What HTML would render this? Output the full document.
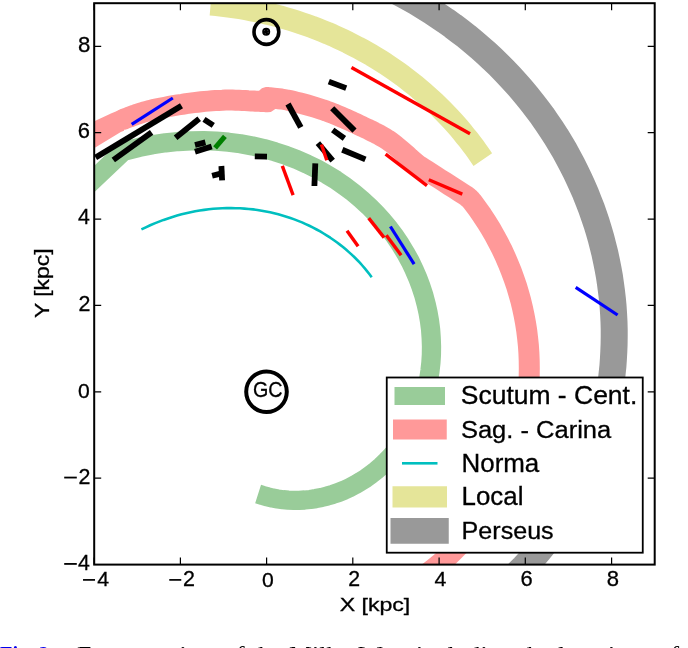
<!DOCTYPE html>
<html><head><meta charset="utf-8"><style>
html,body{margin:0;padding:0;background:#fff;width:688px;height:648px;overflow:hidden;}
svg{display:block;will-change:transform;}
</style></head><body>
<svg width="688" height="648" viewBox="0 0 688 648"><defs><clipPath id="ax"><rect x="94.2" y="3.2" width="560.5" height="561.4"/></clipPath></defs>
<g clip-path="url(#ax)">
<path d="M376.4 -18.6 L384.6 -14.8 L392.6 -10.9 L400.6 -6.8 L408.4 -2.5 L416.1 1.8 L423.7 6.4 L431.1 11.0 L438.5 15.9 L445.7 20.8 L452.8 25.9 L459.7 31.1 L466.6 36.4 L473.2 41.9 L479.8 47.5 L486.2 53.2 L492.5 59.0 L498.6 64.9 L504.6 71.0 L510.4 77.1 L516.1 83.3 L521.6 89.6 L527.0 96.1 L532.2 102.6 L537.3 109.2 L542.2 115.8 L546.9 122.6 L551.5 129.4 L556.0 136.3 L560.2 143.3 L564.4 150.3 L568.3 157.4 L572.1 164.6 L575.7 171.8 L579.2 179.1 L582.5 186.4 L585.7 193.7 L588.6 201.1 L591.5 208.5 L594.1 216.0 L596.6 223.4 L598.9 230.9 L601.1 238.5 L603.0 246.0 L604.9 253.6 L606.5 261.1 L608.0 268.7 L609.4 276.3 L610.5 283.9 L611.5 291.4 L612.4 299.0 L613.1 306.6 L613.6 314.1 L614.0 321.7 L614.2 329.2 L614.2 336.7 L614.1 344.1 L613.8 351.6 L613.4 359.0 L612.9 366.3 L612.1 373.7 L611.3 381.0 L610.3 388.2 L609.1 395.4 L607.8 402.5 L606.3 409.6 L604.7 416.7 L603.0 423.6 L601.1 430.6 L599.1 437.4 L596.9 444.2 L594.7 450.9 L592.2 457.6 L589.7 464.1 L587.0 470.6 L584.2 477.0 L581.3 483.4 L578.2 489.6 L575.1 495.8 L571.8 501.8 L568.4 507.8 L564.9 513.7 L561.3 519.5 L557.6 525.2 L553.7 530.8 L549.8 536.3 L545.8 541.7 L541.6 547.0 L537.4 552.2 L533.1 557.3 L528.7 562.2 L524.2 567.1 L519.6 571.8 L514.9 576.5 L510.2 581.0 L505.4 585.4 L500.5 589.7 L495.5 593.9 L490.4 597.9 L485.3 601.9 L480.2 605.7" fill="none" stroke="#999999" stroke-width="27" stroke-linejoin="round" stroke-linecap="butt"/>
<path d="M210.6 4.4 L216.6 4.9 L222.5 5.6 L228.4 6.3 L234.2 7.1 L240.0 8.0 L245.8 9.0 L251.6 10.1 L257.3 11.2 L263.0 12.5 L268.6 13.8 L274.2 15.2 L279.8 16.6 L285.3 18.2 L290.7 19.8 L296.2 21.5 L301.6 23.3 L306.9 25.1 L312.2 27.0 L317.4 29.0 L322.6 31.1 L327.8 33.2 L332.9 35.4 L337.9 37.7 L342.9 40.0 L347.9 42.4 L352.7 44.9 L357.6 47.4 L362.4 50.0 L367.1 52.6 L371.8 55.3 L376.4 58.1 L380.9 60.9 L385.4 63.8 L389.8 66.8 L394.2 69.8 L398.5 72.8 L402.8 75.9 L407.0 79.1 L411.1 82.3 L415.2 85.6 L419.2 88.9 L423.1 92.3 L427.0 95.7 L430.8 99.1 L434.6 102.6 L438.3 106.1 L441.9 109.7 L445.4 113.3 L448.9 117.0 L452.3 120.7 L455.7 124.4 L459.0 128.2 L462.2 132.0 L465.3 135.9 L468.4 139.7 L471.4 143.6 L474.4 147.6 L477.2 151.5 L480.0 155.5 L482.8 159.6" fill="none" stroke="#e5e599" stroke-width="22.5" stroke-linejoin="round" stroke-linecap="butt"/>
<path d="M123.5 119.2 L125.0 118.7 L126.9 118.0 L129.1 117.2 L131.5 116.2 L134.2 115.3 L137.2 114.2 L140.2 113.2 L143.4 112.2 L146.7 111.3 L150.0 110.4 L153.5 109.6 L157.2 108.8 L161.1 108.0 L165.2 107.2 L169.4 106.4 L173.7 105.6 L177.9 104.9 L182.1 104.3 L186.1 103.6 L190.0 103.1 L193.8 102.6 L197.5 102.2 L201.2 101.8 L204.8 101.4 L208.4 101.1 L212.0 100.8 L215.5 100.6 L218.9 100.4 L222.3 100.3 L225.6 100.1 L228.9 100.1 L232.3 100.1 L235.6 100.2 L239.0 100.3 L242.2 100.4 L245.3 100.6 L248.3 100.8 L251.0 100.9 L253.6 101.0 L255.8 101.2 L257.8 101.2 L259.5 101.3 L261.0 101.4 L262.4 101.5 L263.5 101.5 L264.6 101.6 L265.4 101.7 L266.2 101.7 L266.9 101.8 L267.5 101.8 L267.0 97.5 L268.3 97.7 L269.9 97.8 L271.8 98.0 L273.9 98.2 L276.2 98.4 L278.7 98.7 L281.4 99.0 L284.2 99.5 L287.1 100.0 L290.0 100.6 L293.1 101.3 L296.4 102.1 L299.9 103.0 L303.6 104.0 L307.3 105.0 L311.1 106.1 L315.0 107.3 L318.8 108.5 L322.6 109.7 L326.3 111.0 L330.0 112.4 L333.7 113.8 L337.5 115.4 L341.3 117.0 L345.1 118.6 L348.8 120.3 L352.4 121.9 L356.0 123.6 L359.4 125.2 L362.7 126.8 L365.8 128.2 L368.8 129.6 L371.6 131.0 L374.3 132.4 L377.0 133.7 L379.6 135.1 L382.2 136.6 L384.7 138.1 L387.4 139.7 L390.0 141.5 L392.8 143.5 L395.6 145.7 L398.6 148.2 L401.5 150.7 L404.4 153.2 L407.2 155.7 L409.8 158.1 L412.3 160.2 L414.4 162.1 L416.3 163.7 L417.7 164.8 L418.5 165.5 L418.9 165.8 L419.0 165.9 L419.1 166.0 L419.3 166.0 L419.7 166.2 L420.5 166.6 L421.8 167.5 L423.8 168.7 L426.7 170.6 L430.5 173.1 L434.9 175.9 L439.8 179.0 L444.8 182.2 L449.7 185.4 L454.5 188.4 L458.7 191.1 L462.2 193.3 L464.8 195.0 L466.0 195.8 L467.1 196.6 L468.2 197.5 L469.2 198.4 L470.2 199.3 L471.1 200.3 L472.0 201.4 L472.9 202.5 L477.6 208.9 L482.2 215.4 L486.5 222.0 L490.7 228.8 L494.6 235.6 L498.3 242.5 L501.9 249.5 L505.2 256.6 L508.3 263.8 L511.2 271.0 L513.9 278.3 L516.4 285.6 L518.6 293.0 L520.7 300.4 L522.5 307.9 L524.1 315.4 L525.5 322.9 L526.7 330.5 L527.6 338.0 L528.4 345.6 L528.9 353.1 L529.2 360.7 L529.3 368.2 L529.2 375.7 L528.9 383.2 L528.4 390.6 L527.6 398.1 L526.7 405.4 L525.5 412.8 L524.1 420.0 L522.6 427.2 L520.8 434.4 L518.9 441.5 L516.7 448.5 L514.4 455.4 L511.8 462.2 L509.1 469.0 L506.2 475.6 L503.1 482.1 L499.9 488.6 L496.5 494.9 L492.9 501.1 L489.1 507.2 L485.2 513.1 L481.1 519.0 L476.9 524.7 L472.5 530.2 L468.0 535.7 L463.3 540.9 L458.5 546.1 L453.6 551.0 L448.6 555.9 L443.4 560.5 L438.1 565.0 L432.7 569.4 L427.2 573.6 L421.6 577.6 L415.9 581.4 L410.1 585.1 L404.2 588.6" fill="none" stroke="#ff9999" stroke-width="21" stroke-linejoin="round" stroke-linecap="round"/>
<path d="M60 137.0 L94.85 121.1 L111.5 113.3 L117 110.9 L124 108.7 L124 130.7 L120.8 131.9 L94.85 147.7 L60 168.9Z" fill="#ff9999"/>
<path d="M50.0 221.0 L125.6 149.3 L126.3 150.6 L139.4 147.3 L152.4 144.7 L165.4 142.8 L178.3 141.5 L191.0 140.8 L203.7 140.7 L216.1 141.1 L228.4 142.2 L240.5 143.8 L252.3 145.9 L263.9 148.6 L275.1 151.8 L286.1 155.4 L296.8 159.5 L307.1 164.1 L317.1 169.0 L326.7 174.4 L336.0 180.1 L344.8 186.2 L353.3 192.6 L361.3 199.3 L368.9 206.3 L376.1 213.6 L382.9 221.0 L389.2 228.7 L395.1 236.6 L400.5 244.7 L405.5 252.9 L410.1 261.2 L414.1 269.6 L417.8 278.1 L421.0 286.7 L423.8 295.3 L426.1 303.9 L428.0 312.4 L429.5 321.0 L430.6 329.5 L431.2 338.0 L431.5 346.3 L431.4 354.6 L430.9 362.7 L430.0 370.7 L428.8 378.6 L427.2 386.3 L425.3 393.8 L423.0 401.1 L420.5 408.3 L417.6 415.2 L414.5 421.9 L411.1 428.3 L407.5 434.5 L403.6 440.5 L399.5 446.2 L395.2 451.6 L390.7 456.8 L386.0 461.6 L381.1 466.2 L376.1 470.5 L371.0 474.5 L365.8 478.3 L360.4 481.7 L355.0 484.8 L349.5 487.7 L344.0 490.2 L338.4 492.5 L332.7 494.4 L327.1 496.1 L321.5 497.5 L315.8 498.6 L310.2 499.5 L304.7 500.0 L299.1 500.3 L293.7 500.4 L288.3 500.2 L283.0 499.7 L277.8 499.0 L272.7 498.1 L267.7 496.9 L262.8 495.5 L258.1 494.0" fill="none" stroke="#99cc99" stroke-width="19.3" stroke-linejoin="round" stroke-linecap="butt"/>
<path d="M141.4 229.4 L145.8 227.3 L150.2 225.3 L154.6 223.4 L159.1 221.6 L163.6 219.9 L168.0 218.4 L172.5 216.9 L177.1 215.6 L181.6 214.3 L186.1 213.2 L190.6 212.2 L195.2 211.3 L199.7 210.5 L204.2 209.9 L208.8 209.3 L213.3 208.8 L217.8 208.5 L222.3 208.3 L226.7 208.1 L231.2 208.1 L235.6 208.2 L240.0 208.3 L244.4 208.6 L248.8 209.0 L253.1 209.4 L257.4 210.0 L261.7 210.7 L265.9 211.5 L270.1 212.3 L274.2 213.3 L278.3 214.3 L282.4 215.5 L286.4 216.7 L290.4 218.0 L294.3 219.4 L298.1 220.9 L302.0 222.4 L305.7 224.1 L309.4 225.8 L313.1 227.6 L316.6 229.5 L320.2 231.4 L323.6 233.5 L327.0 235.6 L330.3 237.7 L333.6 240.0 L336.8 242.3 L339.9 244.6 L343.0 247.0 L346.0 249.5 L348.9 252.1 L351.7 254.6 L354.5 257.3 L357.2 260.0 L359.8 262.7 L362.3 265.5 L364.8 268.4 L367.2 271.3 L369.5 274.2 L371.7 277.2" fill="none" stroke="#00bfbf" stroke-width="2.6" stroke-linejoin="round" stroke-linecap="butt"/>
<line x1="95.6" y1="157.6" x2="181.5" y2="105.8" stroke="#000" stroke-width="5.8"/>
<line x1="113.3" y1="160.0" x2="151.6" y2="132.4" stroke="#000" stroke-width="5.8"/>
<line x1="175.6" y1="137.8" x2="199.2" y2="118.8" stroke="#000" stroke-width="5.8"/>
<line x1="204.0" y1="119.4" x2="213.3" y2="125.4" stroke="#000" stroke-width="5.8"/>
<line x1="195.0" y1="145.0" x2="205.4" y2="142.4" stroke="#000" stroke-width="5.8"/>
<line x1="195.0" y1="151.7" x2="211.7" y2="146.5" stroke="#000" stroke-width="5.8"/>
<line x1="212.1" y1="175.7" x2="220.7" y2="173.6" stroke="#000" stroke-width="5.8"/>
<line x1="221.4" y1="166.0" x2="222.1" y2="180.3" stroke="#000" stroke-width="5.8"/>
<line x1="254.8" y1="156.4" x2="267.0" y2="156.6" stroke="#000" stroke-width="5.8"/>
<line x1="288.0" y1="104.0" x2="300.8" y2="127.4" stroke="#000" stroke-width="5.8"/>
<line x1="328.8" y1="81.6" x2="346.2" y2="88.1" stroke="#000" stroke-width="5.8"/>
<line x1="332.2" y1="108.3" x2="354.5" y2="130.6" stroke="#000" stroke-width="5.8"/>
<line x1="332.7" y1="130.0" x2="344.4" y2="138.4" stroke="#000" stroke-width="5.8"/>
<line x1="317.9" y1="143.1" x2="332.7" y2="160.6" stroke="#000" stroke-width="5.8"/>
<line x1="342.3" y1="149.8" x2="365.4" y2="159.4" stroke="#000" stroke-width="5.8"/>
<line x1="315.3" y1="163.3" x2="314.4" y2="186.0" stroke="#000" stroke-width="5.8"/>
<line x1="215.1" y1="147.9" x2="224.9" y2="136.4" stroke="#007f00" stroke-width="5"/>
<line x1="351.5" y1="67.4" x2="470.0" y2="133.8" stroke="#ff0000" stroke-width="3.4"/>
<line x1="321.4" y1="144.5" x2="326.8" y2="160.3" stroke="#ff0000" stroke-width="3.4"/>
<line x1="282.3" y1="165.9" x2="293.1" y2="195.2" stroke="#ff0000" stroke-width="3.4"/>
<line x1="347.0" y1="230.7" x2="358.1" y2="246.3" stroke="#ff0000" stroke-width="3.4"/>
<line x1="368.7" y1="218.1" x2="384.1" y2="237.6" stroke="#ff0000" stroke-width="3.4"/>
<line x1="386.3" y1="235.2" x2="401.1" y2="255.2" stroke="#ff0000" stroke-width="3.4"/>
<line x1="385.6" y1="154.1" x2="427.0" y2="185.7" stroke="#ff0000" stroke-width="3.4"/>
<line x1="428.8" y1="179.8" x2="462.3" y2="194.1" stroke="#ff0000" stroke-width="3.4"/>
<line x1="131.7" y1="124.4" x2="172.8" y2="98.0" stroke="#0000ff" stroke-width="3.2"/>
<line x1="390.4" y1="226.5" x2="414.1" y2="264.1" stroke="#0000ff" stroke-width="3.2"/>
<line x1="575.7" y1="287.4" x2="617.6" y2="315.0" stroke="#0000ff" stroke-width="3.2"/>
<circle cx="266.4" cy="32" r="12.4" fill="none" stroke="#000" stroke-width="3.6"/>
<circle cx="266.2" cy="31.8" r="4" fill="#000"/><circle cx="266.2" cy="31.8" r="2.1" fill="none" stroke="#fff" stroke-opacity="0.45" stroke-width="0.6" stroke-dasharray="1.1 2.2"/>
<circle cx="266.5" cy="391.7" r="20.3" fill="none" stroke="#000" stroke-width="4"/>
</g>
<text x="252.92" y="397.11" font-size="21.30" text-anchor="start" textLength="29.57" lengthAdjust="spacingAndGlyphs" font-family="Liberation Sans, sans-serif" stroke="#000" stroke-width="0.3" >GC</text>
<rect x="94.2" y="3.2" width="560.5" height="561.4" fill="none" stroke="#000" stroke-width="2"/>
<path d="M94.1 564.6 v-7 M94.1 3.2 v7 M180.4 564.6 v-7 M180.4 3.2 v7 M266.6 564.6 v-7 M266.6 3.2 v7 M352.8 564.6 v-7 M352.8 3.2 v7 M439.1 564.6 v-7 M439.1 3.2 v7 M525.3 564.6 v-7 M525.3 3.2 v7 M611.6 564.6 v-7 M611.6 3.2 v7 M94.2 564.5 h7 M654.7 564.5 h-7 M94.2 478.2 h7 M654.7 478.2 h-7 M94.2 391.8 h7 M654.7 391.8 h-7 M94.2 305.4 h7 M654.7 305.4 h-7 M94.2 219.1 h7 M654.7 219.1 h-7 M94.2 132.7 h7 M654.7 132.7 h-7 M94.2 46.4 h7 M654.7 46.4 h-7" stroke="#000" stroke-width="1.2" fill="none"/>
<text x="77.89" y="570.10" font-size="21.53" text-anchor="start" textLength="11.80" lengthAdjust="spacingAndGlyphs" font-family="Liberation Sans, sans-serif" stroke="#000" stroke-width="0.3" >4</text>
<rect x="64.2" y="563.02" width="12.6" height="1.8" fill="#000"/>
<text x="78.40" y="483.56" font-size="21.29" text-anchor="start" textLength="11.92" lengthAdjust="spacingAndGlyphs" font-family="Liberation Sans, sans-serif" stroke="#000" stroke-width="0.3" >2</text>
<rect x="64.2" y="476.66" width="12.6" height="1.8" fill="#000"/>
<text x="78.12" y="397.93" font-size="20.97" text-anchor="start" textLength="11.76" lengthAdjust="spacingAndGlyphs" font-family="Liberation Sans, sans-serif" stroke="#000" stroke-width="0.3" >0</text>
<text x="78.40" y="311.24" font-size="21.29" text-anchor="start" textLength="11.92" lengthAdjust="spacingAndGlyphs" font-family="Liberation Sans, sans-serif" stroke="#000" stroke-width="0.3" >2</text>
<text x="77.89" y="224.46" font-size="21.53" text-anchor="start" textLength="11.80" lengthAdjust="spacingAndGlyphs" font-family="Liberation Sans, sans-serif" stroke="#000" stroke-width="0.3" >4</text>
<text x="77.89" y="138.26" font-size="21.88" text-anchor="start" textLength="12.22" lengthAdjust="spacingAndGlyphs" font-family="Liberation Sans, sans-serif" stroke="#000" stroke-width="0.3" >6</text>
<text x="77.95" y="52.04" font-size="21.83" text-anchor="start" textLength="12.35" lengthAdjust="spacingAndGlyphs" font-family="Liberation Sans, sans-serif" stroke="#000" stroke-width="0.3" >8</text>
<text x="97.32" y="586.00" font-size="20.95" text-anchor="start" textLength="11.85" lengthAdjust="spacingAndGlyphs" font-family="Liberation Sans, sans-serif" stroke="#000" stroke-width="0.3" >4</text>
<rect x="83.02" y="579.05" width="12.0" height="1.7" fill="#000"/>
<text x="182.94" y="586.00" font-size="21.41" text-anchor="start" textLength="11.95" lengthAdjust="spacingAndGlyphs" font-family="Liberation Sans, sans-serif" stroke="#000" stroke-width="0.3" >2</text>
<rect x="169.26" y="579.05" width="12.0" height="1.7" fill="#000"/>
<text x="261.97" y="586.53" font-size="21.06" text-anchor="start" textLength="11.75" lengthAdjust="spacingAndGlyphs" font-family="Liberation Sans, sans-serif" stroke="#000" stroke-width="0.3" >0</text>
<text x="348.23" y="586.00" font-size="21.37" text-anchor="start" textLength="11.86" lengthAdjust="spacingAndGlyphs" font-family="Liberation Sans, sans-serif" stroke="#000" stroke-width="0.3" >2</text>
<text x="434.47" y="586.11" font-size="21.11" text-anchor="start" textLength="11.85" lengthAdjust="spacingAndGlyphs" font-family="Liberation Sans, sans-serif" stroke="#000" stroke-width="0.3" >4</text>
<text x="520.41" y="586.41" font-size="22.22" text-anchor="start" textLength="12.21" lengthAdjust="spacingAndGlyphs" font-family="Liberation Sans, sans-serif" stroke="#000" stroke-width="0.3" >6</text>
<text x="606.80" y="586.25" font-size="21.71" text-anchor="start" textLength="12.28" lengthAdjust="spacingAndGlyphs" font-family="Liberation Sans, sans-serif" stroke="#000" stroke-width="0.3" >8</text>
<text x="339.67" y="611.40" font-size="17.97" text-anchor="start" textLength="70.59" lengthAdjust="spacingAndGlyphs" font-family="Liberation Sans, sans-serif" stroke="#000" stroke-width="0.3" >X [kpc]</text>
<g transform="translate(49.00 317.93) rotate(-90)"><text x="0.00" y="0.00" font-size="20.67" text-anchor="start" textLength="69.46" lengthAdjust="spacingAndGlyphs" font-family="Liberation Sans, sans-serif" stroke="#000" stroke-width="0.3" >Y [kpc]</text></g>
<rect x="386.75" y="377.5" width="256" height="175.2" fill="#fff" stroke="#000" stroke-width="1.8"/>
<rect x="394.5" y="387" width="50.5" height="18" fill="#99cc99"/>
<rect x="393" y="419.5" width="53.75" height="20" fill="#ff9999"/>
<rect x="402" y="462" width="35.5" height="2.6" fill="#00bfbf"/>
<rect x="392.5" y="486.25" width="54.5" height="21.25" fill="#e5e599"/>
<rect x="390.5" y="518" width="58.25" height="25.75" fill="#999999"/>
<text x="460.84" y="404.00" font-size="25.10" text-anchor="start" textLength="176.45" lengthAdjust="spacingAndGlyphs" font-family="Liberation Sans, sans-serif" stroke="#000" stroke-width="0.3" >Scutum - Cent.</text>
<text x="460.91" y="437.75" font-size="23.42" text-anchor="start" textLength="150.30" lengthAdjust="spacingAndGlyphs" font-family="Liberation Sans, sans-serif" stroke="#000" stroke-width="0.3" >Sag. - Carina</text>
<text x="461.54" y="472.00" font-size="24.88" text-anchor="start" textLength="77.75" lengthAdjust="spacingAndGlyphs" font-family="Liberation Sans, sans-serif" stroke="#000" stroke-width="0.3" >Norma</text>
<text x="461.57" y="505.20" font-size="24.99" text-anchor="start" textLength="61.84" lengthAdjust="spacingAndGlyphs" font-family="Liberation Sans, sans-serif" stroke="#000" stroke-width="0.3" >Local</text>
<text x="461.61" y="538.80" font-size="24.22" text-anchor="start" textLength="92.02" lengthAdjust="spacingAndGlyphs" font-family="Liberation Sans, sans-serif" stroke="#000" stroke-width="0.3" >Perseus</text>
<text x="0" y="660.6" font-size="21" font-family="Liberation Serif, serif" fill="#0000ee" font-weight="bold" textLength="54" lengthAdjust="spacingAndGlyphs">Fig. 2.</text>
<text x="77" y="660.6" font-size="21" font-family="Liberation Serif, serif" fill="#000" textLength="640" lengthAdjust="spacingAndGlyphs">Face-on view of the Milky Way, including the locations of the</text></svg>
</body></html>
